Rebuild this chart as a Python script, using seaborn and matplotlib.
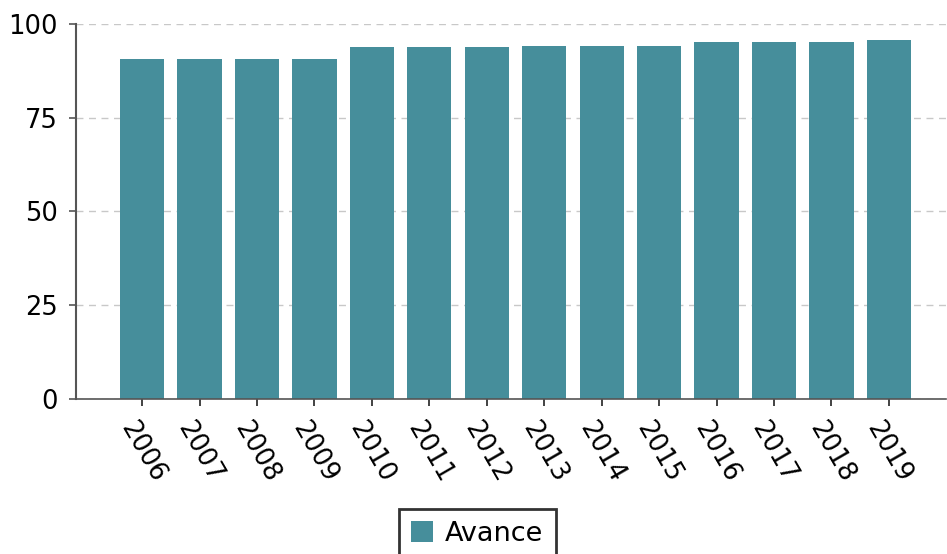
import numpy as np
import pandas as pd
import seaborn as sns
import matplotlib.pyplot as plt

# datos
anios = ["2006", "2007", "2008", "2009", "2010", "2011", "2012",
         "2013", "2014", "2015", "2016", "2017", "2018", "2019"]
avance = [90.7, 90.7, 90.7, 90.7, 93.9, 93.9, 93.9,
          94.1, 94.1, 94.1, 95.2, 95.2, 95.2, 95.7]

df = pd.DataFrame({"anio": anios, "avance": avance})

sns.set_style("white")
plt.rcParams["font.family"] = ["DejaVu Sans"]
plt.rcParams["text.color"] = "black"
plt.rcParams["xtick.color"] = "black"
plt.rcParams["ytick.color"] = "black"

fig = plt.figure(figsize=(9.47, 5.54), dpi=100)
ax = fig.add_axes([0.0803, 0.2798, 0.919, 0.6769])

sns.barplot(data=df, x="anio", y="avance", color="#468e9b", saturation=1,
            width=0.77, label="Avance", linewidth=0, ax=ax)

ax.set_ylim(0, 100)
ax.set_xlim(-1.15, 14.0)
ax.set_yticks([0, 25, 50, 75, 100])
ax.set_xlabel("")
ax.set_ylabel("")

# rejilla discontinua horizontal
ax.yaxis.grid(True, linestyle="--", color="#c8c8c8", linewidth=1, dashes=(5, 4))
ax.set_axisbelow(True)

for s in ["top", "right"]:
    ax.spines[s].set_visible(False)
ax.spines["left"].set_color("#555555")
ax.spines["left"].set_linewidth(1.5)
ax.spines["bottom"].set_color("#555555")
ax.spines["bottom"].set_linewidth(1.2)

ax.tick_params(axis="y", labelsize=18.5, length=5, width=1.2, color="#555555",
               labelcolor="black", left=True, pad=8)
ax.tick_params(axis="x", labelsize=18.5, length=5, width=1.2, color="#222222",
               labelcolor="black", bottom=True, pad=8)
plt.setp(ax.get_xticklabels(), rotation=-60, ha="center")

if ax.get_legend() is not None:
    ax.get_legend().remove()
handles, labels = ax.get_legend_handles_labels()
leg = fig.legend(handles, labels, loc="upper center", bbox_to_anchor=(0.504, 0.0812),
                 fontsize=19.5, frameon=True, fancybox=False, handlelength=0.8,
                 handleheight=0.8, handletextpad=0.45, borderpad=0.45,
                 borderaxespad=0)
leg.get_frame().set_edgecolor("black")
leg.get_frame().set_linewidth(2)

fig.savefig("out.png", dpi=100)
